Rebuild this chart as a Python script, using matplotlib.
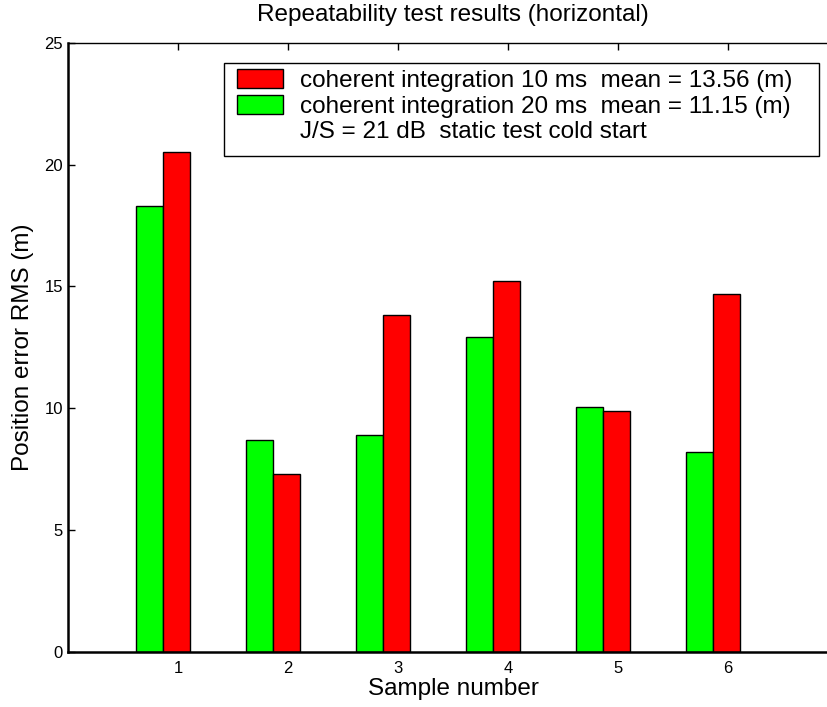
import matplotlib
matplotlib.use("Agg")
import matplotlib.pyplot as plt
from matplotlib.patches import Patch, Rectangle
import numpy as np

plt.rcParams['font.family'] = ['Liberation Sans', 'DejaVu Sans']

samples = [1, 2, 3, 4, 5, 6]
rms_20ms = [18.31, 8.67, 8.88, 12.93, 10.05, 8.21]
rms_10ms = [20.53, 7.28, 13.83, 15.22, 9.89, 14.69]
label_10ms = "coherent integration 10 ms  mean = 13.56 (m)"
label_20ms = "coherent integration 20 ms  mean = 11.15 (m)"
note = "J/S = 21 dB  static test cold start"
yticks = [0, 5, 10, 15, 20, 25]

W, H = 828, 707
fig = plt.figure(figsize=(W / 100, H / 100), dpi=100)
ax = fig.add_axes([0.0826, 0.0785, 0.929, 0.861])

x = np.array(samples, dtype=float)
w = 0.245
ax.bar(x - 0.258, rms_20ms, width=w, color='#00ff00', edgecolor='black', linewidth=1.0)
ax.bar(x - 0.013, rms_10ms, width=w, color='#ff0000', edgecolor='black', linewidth=1.0)

ax.set_xlim(0, 7)
ax.set_ylim(0, 25)
ax.set_xticks(samples)
ax.set_yticks(yticks)
ax.tick_params(axis='both', direction='in', length=5, width=1, labelsize=12)
ax.tick_params(axis='x', top=True, bottom=False, pad=7)
ax.tick_params(axis='y', pad=4)
for s in ax.spines.values():
    s.set_linewidth(1.0)
ax.spines['bottom'].set_linewidth(1.8)
ax.spines['left'].set_linewidth(1.8)

ax.set_title("Repeatability test results (horizontal)", fontsize=17.5, pad=16)
ax.set_xlabel("Sample number", fontsize=17.5, labelpad=1)
ax.set_ylabel("Position error RMS (m)", fontsize=17.5, labelpad=7)

# legend box, drawn separately so the padding around the entries can be set freely
box = Rectangle((224 / W, 1 - 156 / H), (819 - 224) / W, (156 - 63) / H,
                transform=fig.transFigure, facecolor='white', edgecolor='black',
                linewidth=1.0, zorder=4, clip_on=False)
ax.add_artist(box)

handles = [
    Patch(facecolor='#ff0000', edgecolor='black', linewidth=1.0),
    Patch(facecolor='#00ff00', edgecolor='black', linewidth=1.0),
    Patch(facecolor='none', edgecolor='none'),
]
leg = ax.legend(handles, [label_10ms, label_20ms, note],
                loc='upper left', bbox_to_anchor=(237 / W, 1 - 69 / H),
                bbox_transform=fig.transFigure, borderaxespad=0, borderpad=0,
                fontsize=17.5, frameon=False,
                handlelength=1.9, handleheight=0.85, handletextpad=0.7,
                labelspacing=0.1)
leg.set_zorder(5)

fig.savefig("out.png", dpi=100)
